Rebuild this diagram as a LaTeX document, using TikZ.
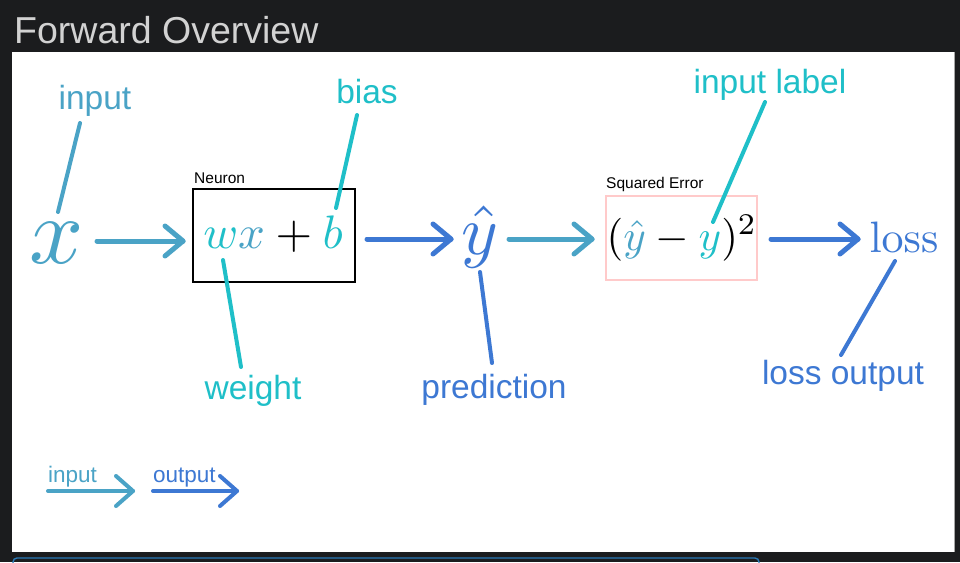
\documentclass[tikz,border=0pt]{standalone}
\usepackage[no-math]{fontspec}
\newfontfamily\labfont{Liberation Sans}
\definecolor{bgdark}{HTML}{1B1C1E}
\definecolor{titlec}{HTML}{D2D2D2}
\definecolor{cin}{HTML}{4AA3C6}
\definecolor{cteal}{HTML}{1FBFC8}
\definecolor{cout}{HTML}{3D78D3}
\definecolor{pinkc}{HTML}{FFCACA}
\definecolor{barc}{HTML}{2A7AB8}
\newcommand\mychev[2]{\draw[#1] ([shift={(-18,-15)}]#2) -- (#2) -- ([shift={(-18,15)}]#2);}
\newcommand\mysmallchev[2]{\draw[#1] ([shift={(-17,-15)}]#2) -- (#2) -- ([shift={(-17,15)}]#2);}
\begin{document}
\begin{tikzpicture}[x=1pt,y=-1pt,
  lab/.style={font=\labfont\fontsize{33.5}{33.5}\selectfont, anchor=base, inner sep=0},
  smalllab/.style={font=\labfont\fontsize{22.5}{22.5}\selectfont, anchor=base west, inner sep=0},
  boxlab/.style={font=\labfont\fontsize{15.5}{15.5}\selectfont, anchor=base west, inner sep=0},
  mathn/.style={anchor=base, inner sep=0},
  arrowline/.style={line width=5, line cap=round, line join=round},
  legline/.style={line width=4, line cap=round, line join=round},
  conn/.style={line width=4, line cap=round}]
\fill[bgdark] (0,0) rectangle (960,562);
\useasboundingbox (0,0) rectangle (960,562);
\fill[white] (12,52) rectangle (954,552);
\draw[gray!70, line width=1] (954.5,52) -- (954.5,552);
\draw[barc, line width=1.4, rounded corners=4] (13,566) -- (13,558) -- (759,558) -- (759,566);

% title
\node[anchor=base west, inner sep=0, text=titlec, font=\labfont\fontsize{37.5}{37.5}\selectfont] (title) at (14,43) {Forward Overview};

% boxes
\node[draw=black, line width=2.5, minimum width=162, minimum height=93, inner sep=0] (neuron) at (274,235.5) {};
\node[boxlab] (neuronlab) at (194,183) {Neuron};
\node[draw=pinkc, line width=2, minimum width=151, minimum height=84, inner sep=0] (sqbox) at (681.5,238) {};
\node[boxlab] (sqlab) at (606,188) {Squared Error};

% math
\node[mathn, text=cin] (xm) at (57,263) {\scalebox{9.5}{$x$}};
\node[mathn] (neuroneq) at (273,248) {\scalebox{4.7}{$\textcolor{cteal}{w}\textcolor{cin}{x}+\textcolor{cteal}{b}$}};
\node[mathn, text=cout] (yhat) at (480,254) {\scalebox{7}{$\hat{y}$}};
\node[mathn] (sqeq) at (682,250) {\scalebox{4.3}{$(\textcolor{cin}{\hat{y}}-\textcolor{cteal}{y})^2$}};
\node[mathn, text=cout] (loss) at (904,252) {\scalebox{4.4}{$\mathrm{loss}$}};

% labels
\node[lab, text=cin] (inputlab) at (95,109) {input};
\node[lab, text=cteal] (biaslab) at (367,103) {bias};
\node[lab, text=cteal] (weightlab) at (253,399) {weight};
\node[lab, text=cout] (predlab) at (494,398) {prediction};
\node[lab, text=cteal] (inlabellab) at (770,93) {input label};
\node[lab, text=cout] (lossoutlab) at (843,384) {loss output};

% connector end points
\coordinate (c1a) at (80,123);  \coordinate (c1b) at (58,212);
\coordinate (c2a) at (357,115); \coordinate (c2b) at (336,208);
\coordinate (c3a) at (223,260); \coordinate (c3b) at (241,367);
\coordinate (c4a) at (480,272); \coordinate (c4b) at (492,363);
\coordinate (c5a) at (765,102); \coordinate (c5b) at (713,222);
\coordinate (c6a) at (895,261); \coordinate (c6b) at (841,355);
\draw[conn, cin] (c1a) -- (c1b);
\draw[conn, cteal] (c2a) -- (c2b);
\draw[conn, cteal] (c3a) -- (c3b);
\draw[conn, cout] (c4a) -- (c4b);
\draw[conn, cteal] (c5a) -- (c5b);
\draw[conn, cout] (c6a) -- (c6b);

% flow arrows
\coordinate (a1s) at (97,241);  \coordinate (a1e) at (183,241);
\coordinate (a2s) at (367,239); \coordinate (a2e) at (451,239);
\coordinate (a3s) at (509,239); \coordinate (a3e) at (592,239);
\coordinate (a4s) at (771,239); \coordinate (a4e) at (858,239);
\draw[arrowline, cin] (a1s) -- (a1e); \mychev{arrowline, cin}{a1e}
\draw[arrowline, cout] (a2s) -- (a2e); \mychev{arrowline, cout}{a2e}
\draw[arrowline, cin] (a3s) -- (a3e); \mychev{arrowline, cin}{a3e}
\draw[arrowline, cout] (a4s) -- (a4e); \mychev{arrowline, cout}{a4e}

% legend
\node[smalllab, text=cin] (leginlab) at (48,482) {input};
\node[smalllab, text=cout] (legoutlab) at (153,482) {output};
\coordinate (l1s) at (48,491);  \coordinate (l1e) at (133,491);
\coordinate (l2s) at (153,491); \coordinate (l2e) at (237,491);
\draw[legline, cin] (l1s) -- (l1e); \mysmallchev{legline, cin}{l1e}
\draw[legline, cout] (l2s) -- (l2e); \mysmallchev{legline, cout}{l2e}
\end{tikzpicture}
\end{document}
